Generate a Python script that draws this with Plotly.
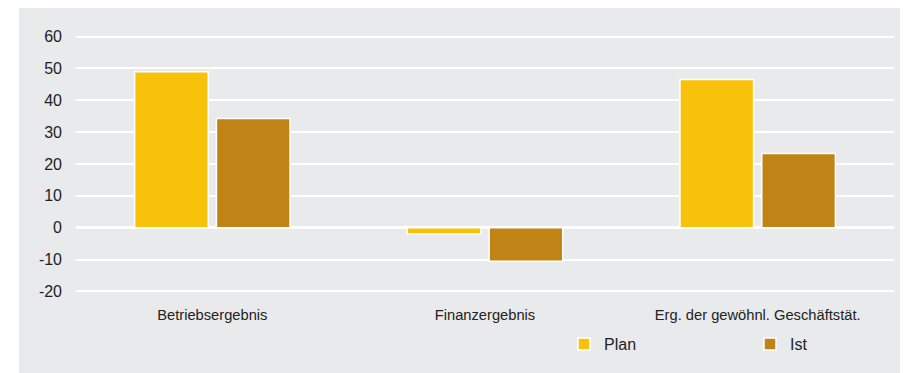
import plotly.graph_objects as go

categories = ["Betriebsergebnis", "Finanzergebnis", "Erg. der gewöhnl. Geschäftstät."]
plan = [49.0, -2.0, 46.5]
ist = [34.3, -10.5, 23.3]
y_ticks = [-20, -10, 0, 10, 20, 30, 40, 50, 60]

# the page puts the figure 8px in from the window corner, so positions below are figure pixels
W, H = 908, 373
L, R, T, B = 68, 22, 27, 88
plot_w = W - L - R
plot_h = H - T - B
bg = "#e9eaec"


def px_x(x):
    return (x - L) / plot_w


def px_y(y):
    return (H - B - y) / plot_h


fig = go.Figure()
fig.add_trace(go.Bar(x=categories, y=plan, name="Plan", legend="legend",
                     marker=dict(color="#f9c20a", line=dict(color="white", width=1.5))))
fig.add_trace(go.Bar(x=categories, y=ist, name="Ist", legend="legend2",
                     marker=dict(color="#c08316", line=dict(color="white", width=1.5))))

fig.add_shape(type="rect", xref="paper", yref="paper", layer="below",
              x0=px_x(11), x1=px_x(W + 10), y0=px_y(H + 10), y1=px_y(-5),
              fillcolor=bg, line=dict(width=0))

legend_style = dict(orientation="h", xanchor="left", yanchor="middle",
                    bgcolor="rgba(0,0,0,0)", font=dict(size=16), itemwidth=30)

fig.update_layout(
    width=W, height=H,
    margin=dict(l=L, r=R, t=T, b=B, autoexpand=False),
    paper_bgcolor="white",
    plot_bgcolor=bg,
    barmode="group",
    bargap=0.4,
    bargroupgap=0.1,
    font=dict(family="Liberation Sans, Arial, sans-serif", color="#222222"),
    showlegend=True,
    legend=dict(x=px_x(556), y=px_y(336), **legend_style),
    legend2=dict(x=px_x(742), y=px_y(336), **legend_style),
)
fig.update_xaxes(showgrid=False, showline=False, ticks="", tickfont=dict(size=14.7),
                 ticklabelstandoff=11)
fig.update_yaxes(range=[-20.5, 60.5], tickvals=y_ticks, ticktext=[str(v) for v in y_ticks],
                 showgrid=True, gridcolor="white",
                 gridwidth=1.5, zeroline=True, zerolinecolor="white", zerolinewidth=3,
                 showline=False, ticks="", tickfont=dict(size=16), ticklabelstandoff=13)

fig.write_html("out.html")
